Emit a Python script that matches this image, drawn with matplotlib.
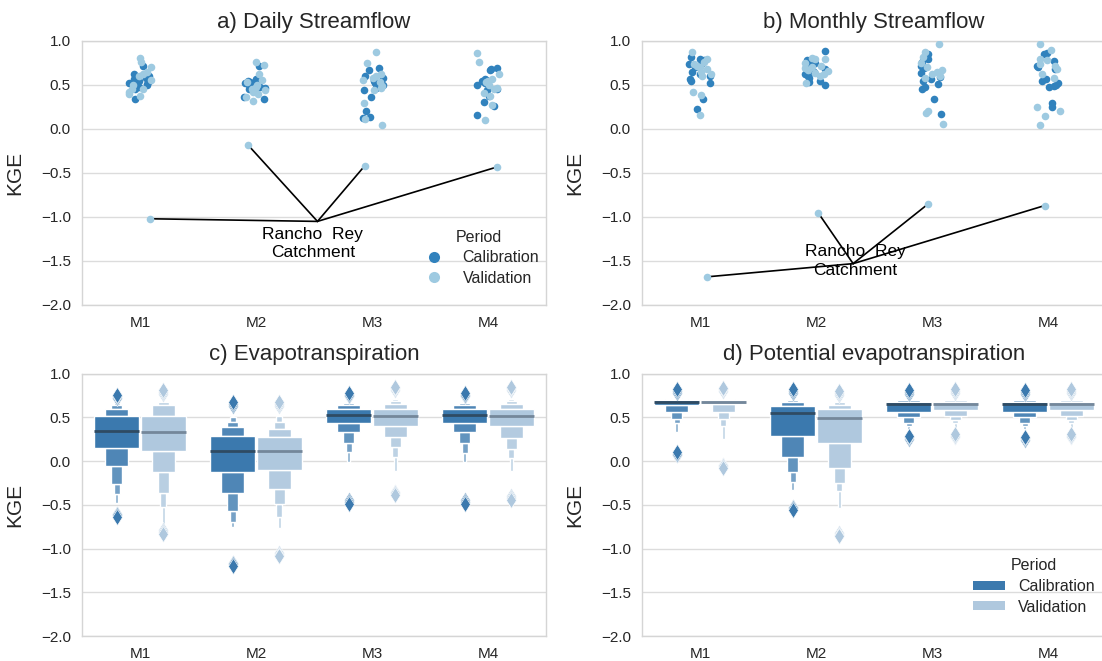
import numpy as np
import matplotlib
matplotlib.use("Agg")
import matplotlib.pyplot as plt
import seaborn as sns
from matplotlib.patches import Rectangle, Patch
from matplotlib.lines import Line2D
from matplotlib.colors import to_rgb

sns.set_theme(style="whitegrid")
plt.rcParams['font.family'] = ['Liberation Sans', 'DejaVu Sans']

models = ["M1", "M2", "M3", "M4"]
periods = ["Calibration", "Validation"]
yticks = [-2.0, -1.5, -1.0, -0.5, 0.0, 0.5, 1.0]

# ---- KGE of streamflow per catchment (strip panels) ----
daily_cal = [
    [0.72, 0.60, 0.58, 0.57, 0.55, 0.54, 0.52, 0.51, 0.50, 0.48, 0.46, 0.34, 0.62, 0.55],
    [0.72, 0.57, 0.55, 0.53, 0.52, 0.50, 0.48, 0.46, 0.44, 0.36, 0.34, 0.55, 0.50, 0.47],
    [0.69, 0.67, 0.58, 0.56, 0.55, 0.52, 0.47, 0.44, 0.36, 0.20, 0.14, 0.12, 0.50, 0.60],
    [0.69, 0.68, 0.67, 0.57, 0.56, 0.55, 0.50, 0.46, 0.44, 0.38, 0.31, 0.26, 0.16, 0.52],
]
daily_val = [
    [0.81, 0.76, 0.70, 0.65, 0.62, 0.56, 0.50, 0.46, 0.45, 0.42, 0.40, 0.38, 0.60, -1.02],
    [0.76, 0.73, 0.63, 0.56, 0.53, 0.50, 0.48, 0.44, 0.42, 0.40, 0.36, 0.32, 0.45, -0.18],
    [0.87, 0.75, 0.63, 0.60, 0.56, 0.53, 0.49, 0.47, 0.44, 0.30, 0.11, 0.04, 0.58, -0.42],
    [0.86, 0.76, 0.62, 0.57, 0.53, 0.50, 0.47, 0.41, 0.37, 0.27, 0.10, 0.55, 0.45, -0.43],
]
monthly_cal = [
    [0.82, 0.80, 0.75, 0.74, 0.65, 0.60, 0.57, 0.55, 0.52, 0.34, 0.23, 0.62, 0.78, 0.70],
    [0.89, 0.78, 0.75, 0.74, 0.70, 0.68, 0.65, 0.60, 0.55, 0.53, 0.50, 0.72, 0.63, 0.58],
    [0.85, 0.80, 0.76, 0.69, 0.72, 0.59, 0.57, 0.55, 0.51, 0.48, 0.45, 0.34, 0.17, 0.64],
    [0.86, 0.85, 0.77, 0.72, 0.70, 0.57, 0.55, 0.50, 0.49, 0.48, 0.30, 0.25, 0.68, 0.52],
]
monthly_val = [
    [0.88, 0.80, 0.76, 0.70, 0.68, 0.65, 0.62, 0.42, 0.39, 0.16, 0.72, 0.60, 0.74, -1.68],
    [0.81, 0.80, 0.79, 0.72, 0.70, 0.69, 0.67, 0.66, 0.64, 0.60, 0.52, 0.75, 0.62, -0.95],
    [0.97, 0.88, 0.82, 0.75, 0.70, 0.65, 0.62, 0.60, 0.58, 0.21, 0.18, 0.06, 0.67, -0.85],
    [0.97, 0.90, 0.80, 0.78, 0.72, 0.68, 0.58, 0.25, 0.15, 0.05, 0.20, 0.74, 0.63, -0.87],
]

# ---- letter values of gridded KGE (boxen panels) ----
# upper / lower: letter values from the quartiles outwards
et_cal_median = [0.34, 0.11, 0.53, 0.53]
et_cal_upper = [[0.51, 0.59, 0.64, 0.66, 0.67], [0.29, 0.39, 0.45, 0.50, 0.52],
                [0.60, 0.64, 0.66, 0.67, 0.68], [0.60, 0.64, 0.66, 0.67, 0.68]]
et_cal_lower = [[0.15, -0.06, -0.26, -0.38, -0.48], [-0.13, -0.37, -0.57, -0.70, -0.75],
                [0.44, 0.33, 0.21, 0.10, -0.01], [0.44, 0.33, 0.21, 0.09, -0.01]]
et_cal_out = [[0.72, 0.74, 0.76, -0.60, -0.62, -0.64], [0.63, 0.65, 0.67, -1.16, -1.18, -1.20],
              [0.74, 0.76, 0.78, -0.45, -0.47, -0.49], [0.74, 0.76, 0.78, -0.45, -0.47, -0.49]]
et_val_median = [0.33, 0.11, 0.51, 0.51]
et_val_upper = [[0.52, 0.64, 0.67, 0.69, 0.70], [0.27, 0.37, 0.45, 0.51, 0.53],
                [0.60, 0.65, 0.69, 0.71, 0.72], [0.60, 0.65, 0.69, 0.71, 0.72]]
et_val_lower = [[0.11, -0.13, -0.37, -0.52, -0.75], [-0.10, -0.32, -0.49, -0.64, -0.77],
                [0.40, 0.27, 0.16, 0.05, -0.11], [0.40, 0.26, 0.14, 0.03, -0.11]]
et_val_out = [[0.77, 0.79, 0.81, -0.79, -0.81, -0.83], [0.63, 0.65, 0.67, -1.05, -1.07, -1.09],
              [0.81, 0.83, 0.85, -0.35, -0.37, -0.39], [0.81, 0.83, 0.85, -0.40, -0.42, -0.44]]

pet_cal_median = [0.67, 0.55, 0.655, 0.655]
pet_cal_upper = [[0.70, 0.71, 0.72, 0.73, 0.74], [0.625, 0.67, 0.70, 0.71, 0.72],
                 [0.675, 0.70, 0.71, 0.72, 0.73], [0.675, 0.70, 0.71, 0.72, 0.73]]
pet_cal_lower = [[0.64, 0.56, 0.48, 0.43, 0.33], [0.29, 0.05, -0.13, -0.24, -0.33],
                 [0.56, 0.50, 0.44, 0.40, 0.37], [0.56, 0.50, 0.44, 0.40, 0.37]]
pet_cal_out = [[0.78, 0.80, 0.82, 0.07, 0.085, 0.10], [0.78, 0.80, 0.82, -0.52, -0.54, -0.56],
               [0.77, 0.79, 0.81, 0.25, 0.27, 0.29], [0.77, 0.79, 0.81, 0.24, 0.26, 0.28]]
pet_val_median = [0.67, 0.49, 0.65, 0.65]
pet_val_upper = [[0.70, 0.71, 0.72, 0.73, 0.74], [0.59, 0.64, 0.67, 0.69, 0.70],
                 [0.67, 0.70, 0.71, 0.72, 0.73], [0.67, 0.70, 0.71, 0.72, 0.73]]
pet_val_lower = [[0.65, 0.56, 0.48, 0.40, 0.25], [0.21, -0.08, -0.25, -0.34, -0.54],
                 [0.58, 0.52, 0.47, 0.44, 0.38], [0.58, 0.52, 0.47, 0.44, 0.38]]
pet_val_out = [[0.80, 0.82, 0.84, -0.045, -0.06, -0.075], [0.76, 0.78, 0.80, -0.82, -0.84, -0.86],
               [0.78, 0.80, 0.82, 0.27, 0.29, 0.31], [0.78, 0.80, 0.82, 0.27, 0.29, 0.31]]

strip_colors = ["#3182bd", "#9ecae1"]
boxen_colors = ["#3b79ae", "#afc8de"]
median_colors = ["#2f4b63", "#74879a"]
text_color = "#262626"

W, H = 1102, 661
fig = plt.figure(figsize=(W / 100, H / 100), dpi=100)


def make_axes(left_px, top_px, bottom_px, width_px=464):
    return fig.add_axes([left_px / W, 1 - bottom_px / H, width_px / W, (bottom_px - top_px) / H])


ax_a = make_axes(82, 41, 305)
ax_b = make_axes(642, 41, 305)
ax_c = make_axes(82, 373.6, 636)
ax_d = make_axes(642, 373.6, 636)


def style_axes(ax, title):
    ax.set_xlim(-0.5, 3.5)
    ax.set_ylim(-2.0, 1.0)
    ax.set_yticks(yticks)
    ax.set_yticklabels([f"{t:.1f}".replace("-", "\u2212") for t in yticks])
    ax.set_xticks(range(len(models)))
    ax.set_xticklabels(models)
    ax.grid(axis="x", visible=False)
    ax.grid(axis="y", color="#dcdcdc", linewidth=1.0)
    ax.set_axisbelow(True)
    ax.tick_params(axis="both", length=0, labelsize=11, pad=8, colors=text_color)
    for s in ax.spines.values():
        s.set_color("#d5d5d5")
        s.set_linewidth(1.0)
    ax.set_ylabel("KGE", fontsize=15, color=text_color)
    ax.yaxis.set_label_coords(-58 / 464, 0.5)
    ax.set_title(title, fontsize=16, color=text_color, pad=9.5)


def strip(ax, cal, val, seed):
    rng = np.random.default_rng(seed)
    pos = {}
    for i in range(len(models)):
        for j, vals in enumerate([cal[i], val[i]]):
            vals = np.asarray(vals)
            x = i + rng.uniform(-0.1, 0.1, len(vals))
            ax.scatter(x, vals, s=30, color=strip_colors[j], linewidths=0, zorder=3)
            if j == 1:
                k = int(np.argmin(vals))
                pos[i] = (x[k], vals[k])
    return pos


def lighten(c, t):
    r = np.array(to_rgb(c))
    return tuple(r + (1 - r) * t)


def boxen(ax, x, median, upper, lower, outliers, j, width=0.39):
    base = boxen_colors[j]
    k = len(upper)
    shades = [0.0, 0.1, 0.2, 0.3, 0.4] if j == 0 else [0.0, 0.06, 0.12, 0.18, 0.24]
    for lvl in range(k - 1, -1, -1):
        w = width * 0.5 ** lvl
        col = lighten(base, shades[lvl])
        if lvl == 0:
            spans = [(lower[0], upper[0])]
        else:
            spans = [(upper[lvl - 1], upper[lvl]), (lower[lvl], lower[lvl - 1])]
        for lo, hi in spans:
            ax.add_patch(Rectangle((x - w / 2, lo), w, hi - lo, facecolor=col,
                                   edgecolor="white", linewidth=1.0, zorder=3))
    ax.plot([x - width / 2, x + width / 2], [median, median], color=median_colors[j],
            linewidth=2.0, zorder=4, solid_capstyle="butt")
    ax.plot(np.full(len(outliers), x), outliers, linestyle="none", marker="d",
            markersize=8, color=base, markeredgecolor="white",
            markeredgewidth=0.5, zorder=3)


# ---- a) and b): strip plots ----
style_axes(ax_a, "a) Daily Streamflow")
style_axes(ax_b, "b) Monthly Streamflow")
pos_a = strip(ax_a, daily_cal, daily_val, 7)
pos_b = strip(ax_b, monthly_cal, monthly_val, 11)

for ax, pos, hub, label_xy in [(ax_a, pos_a, (1.53, -1.05), (1.49, -1.30)),
                               (ax_b, pos_b, (1.32, -1.53), (1.34, -1.50))]:
    for i in range(len(models)):
        px, py = pos[i]
        ax.plot([hub[0], px], [hub[1], py], color="black", linewidth=1.2, zorder=2)
    ax.text(label_xy[0], label_xy[1], "Rancho  Rey\nCatchment", ha="center", va="center",
            fontsize=12.5, color="black", linespacing=1.3, zorder=5)

leg_handles = [Line2D([], [], linestyle="none", marker="o", markersize=8,
                      color=strip_colors[j], markeredgewidth=0) for j in range(2)]
leg = ax_a.legend(leg_handles, periods, title="Period", loc="upper left",
                  bbox_to_anchor=(0.71, 0.31), frameon=False, fontsize=11.5,
                  title_fontsize=11.5, labelspacing=0.35, borderaxespad=0)
for t in leg.get_texts():
    t.set_color(text_color)
leg.get_title().set_color(text_color)

# ---- c) and d): letter-value plots ----
style_axes(ax_c, "c) Evapotranspiration")
style_axes(ax_d, "d) Potential evapotranspiration")
for ax, groups in [(ax_c, [(et_cal_median, et_cal_upper, et_cal_lower, et_cal_out),
                           (et_val_median, et_val_upper, et_val_lower, et_val_out)]),
                   (ax_d, [(pet_cal_median, pet_cal_upper, pet_cal_lower, pet_cal_out),
                           (pet_val_median, pet_val_upper, pet_val_lower, pet_val_out)])]:
    for j, (med, up, lo, out) in enumerate(groups):
        for i in range(len(models)):
            x = i + (-0.2 if j == 0 else 0.2)
            boxen(ax, x, med[i], up[i], lo[i], out[i], j)

leg_patches = [Patch(facecolor=boxen_colors[j], edgecolor="none") for j in range(2)]
leg2 = ax_d.legend(leg_patches, periods, title="Period", loc="upper left",
                   bbox_to_anchor=(0.70, 0.32), frameon=False, fontsize=11.5,
                   title_fontsize=11.5, labelspacing=0.35, borderaxespad=0,
                   handleheight=0.5)
for t in leg2.get_texts():
    t.set_color(text_color)
leg2.get_title().set_color(text_color)

fig.savefig("out.png", dpi=100)
